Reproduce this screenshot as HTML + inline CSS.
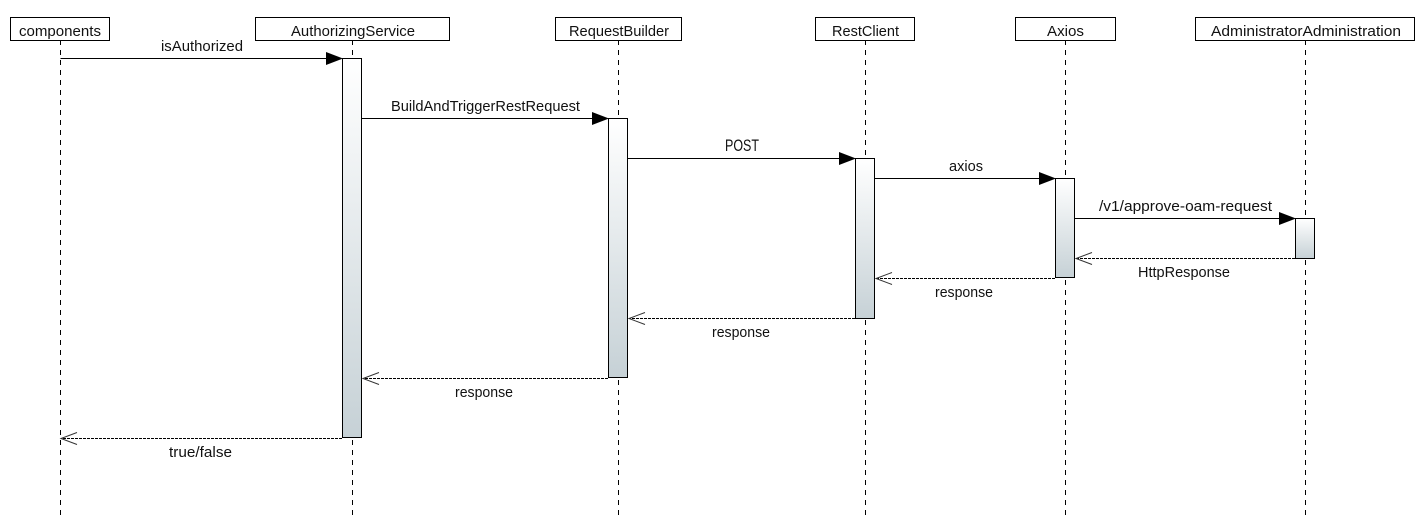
<!DOCTYPE html>
<html>
<head>
<meta charset="utf-8">
<style>
html,body{margin:0;padding:0;background:#fff;width:1420px;height:517px;overflow:hidden}
svg{display:block}
text{font-family:"Liberation Sans",sans-serif;font-size:15px;fill:#111}
.box{fill:#fff;stroke:#000;stroke-width:1}
.life{stroke:#000;stroke-width:1;stroke-dasharray:5 5;fill:none}
.act{fill:url(#g);stroke:#000;stroke-width:1}
.msg{stroke:#000;stroke-width:1;fill:none}
.ret{stroke:#000;stroke-width:1;stroke-dasharray:3 1;fill:none}
.open{stroke:#333;stroke-width:1;fill:none}
</style>
</head>
<body>
<svg width="1420" height="517" viewBox="0 0 1420 517" xmlns="http://www.w3.org/2000/svg">
<defs>
<linearGradient id="g" x1="0" y1="0" x2="0" y2="1">
<stop offset="0" stop-color="#ffffff"/>
<stop offset="1" stop-color="#c6d1d6"/>
</linearGradient>
</defs>

<!-- lifelines -->
<line class="life" x1="60.5" y1="40" x2="60.5" y2="517"/>
<line class="life" x1="352.5" y1="40" x2="352.5" y2="517"/>
<line class="life" x1="618.5" y1="40" x2="618.5" y2="517"/>
<line class="life" x1="865.5" y1="40" x2="865.5" y2="517"/>
<line class="life" x1="1065.5" y1="40" x2="1065.5" y2="517"/>
<line class="life" x1="1305.5" y1="40" x2="1305.5" y2="517"/>

<!-- header boxes -->
<rect class="box" x="10.5" y="17.5" width="99" height="23"/>
<rect class="box" x="255.5" y="17.5" width="194" height="23"/>
<rect class="box" x="555.5" y="17.5" width="126" height="23"/>
<rect class="box" x="815.5" y="17.5" width="99" height="23"/>
<rect class="box" x="1015.5" y="17.5" width="100" height="23"/>
<rect class="box" x="1195.5" y="17.5" width="219" height="23"/>

<text x="19" y="36" textLength="82" lengthAdjust="spacingAndGlyphs">components</text>
<text x="291" y="36" textLength="124" lengthAdjust="spacingAndGlyphs">AuthorizingService</text>
<text x="569" y="36" textLength="100" lengthAdjust="spacingAndGlyphs">RequestBuilder</text>
<text x="832" y="36" textLength="67" lengthAdjust="spacingAndGlyphs">RestClient</text>
<text x="1047" y="36" textLength="37" lengthAdjust="spacingAndGlyphs">Axios</text>
<text x="1211" y="36" textLength="190" lengthAdjust="spacingAndGlyphs">AdministratorAdministration</text>

<!-- activations -->
<rect class="act" x="342.5" y="58.5" width="19" height="379"/>
<rect class="act" x="608.5" y="118.5" width="19" height="259"/>
<rect class="act" x="855.5" y="158.5" width="19" height="160"/>
<rect class="act" x="1055.5" y="178.5" width="19" height="99"/>
<rect class="act" x="1295.5" y="218.5" width="19" height="40"/>

<!-- sync messages -->
<line class="msg" x1="60.5" y1="58.5" x2="326" y2="58.5"/>
<polygon points="326,52 343,58.5 326,65" fill="#000"/>
<line class="msg" x1="361.5" y1="118.5" x2="592" y2="118.5"/>
<polygon points="592,112 609,118.5 592,125" fill="#000"/>
<line class="msg" x1="627.5" y1="158.5" x2="839" y2="158.5"/>
<polygon points="839,152 856,158.5 839,165" fill="#000"/>
<line class="msg" x1="874.5" y1="178.5" x2="1039" y2="178.5"/>
<polygon points="1039,172 1056,178.5 1039,185" fill="#000"/>
<line class="msg" x1="1074.5" y1="218.5" x2="1279" y2="218.5"/>
<polygon points="1279,212 1296,218.5 1279,225" fill="#000"/>

<!-- return messages -->
<line class="ret" x1="1295" y1="258.5" x2="1076" y2="258.5"/>
<polyline class="open" points="1092,252.5 1076,258.5 1092,264.5"/>
<line class="ret" x1="1055" y1="278.5" x2="876" y2="278.5"/>
<polyline class="open" points="892,272.5 876,278.5 892,284.5"/>
<line class="ret" x1="855" y1="318.5" x2="629" y2="318.5"/>
<polyline class="open" points="645,312.5 629,318.5 645,324.5"/>
<line class="ret" x1="608" y1="378.5" x2="363" y2="378.5"/>
<polyline class="open" points="379,372.5 363,378.5 379,384.5"/>
<line class="ret" x1="342" y1="438.5" x2="61" y2="438.5"/>
<polyline class="open" points="77,432.5 61,438.5 77,444.5"/>

<!-- message labels -->
<text x="161" y="51" textLength="82" lengthAdjust="spacingAndGlyphs">isAuthorized</text>
<text x="391" y="111" textLength="189" lengthAdjust="spacingAndGlyphs">BuildAndTriggerRestRequest</text>
<text x="725" y="151" textLength="34" lengthAdjust="spacingAndGlyphs" style="font-size:17px">POST</text>
<text x="949" y="171" textLength="34" lengthAdjust="spacingAndGlyphs">axios</text>
<text x="1099" y="211" textLength="173" lengthAdjust="spacingAndGlyphs">/v1/approve-oam-request</text>
<text x="1138" y="277" textLength="92" lengthAdjust="spacingAndGlyphs">HttpResponse</text>
<text x="935" y="297" textLength="58" lengthAdjust="spacingAndGlyphs">response</text>
<text x="712" y="337" textLength="58" lengthAdjust="spacingAndGlyphs">response</text>
<text x="455" y="397" textLength="58" lengthAdjust="spacingAndGlyphs">response</text>
<text x="169" y="457" textLength="63" lengthAdjust="spacingAndGlyphs">true/false</text>
</svg>
</body>
</html>
